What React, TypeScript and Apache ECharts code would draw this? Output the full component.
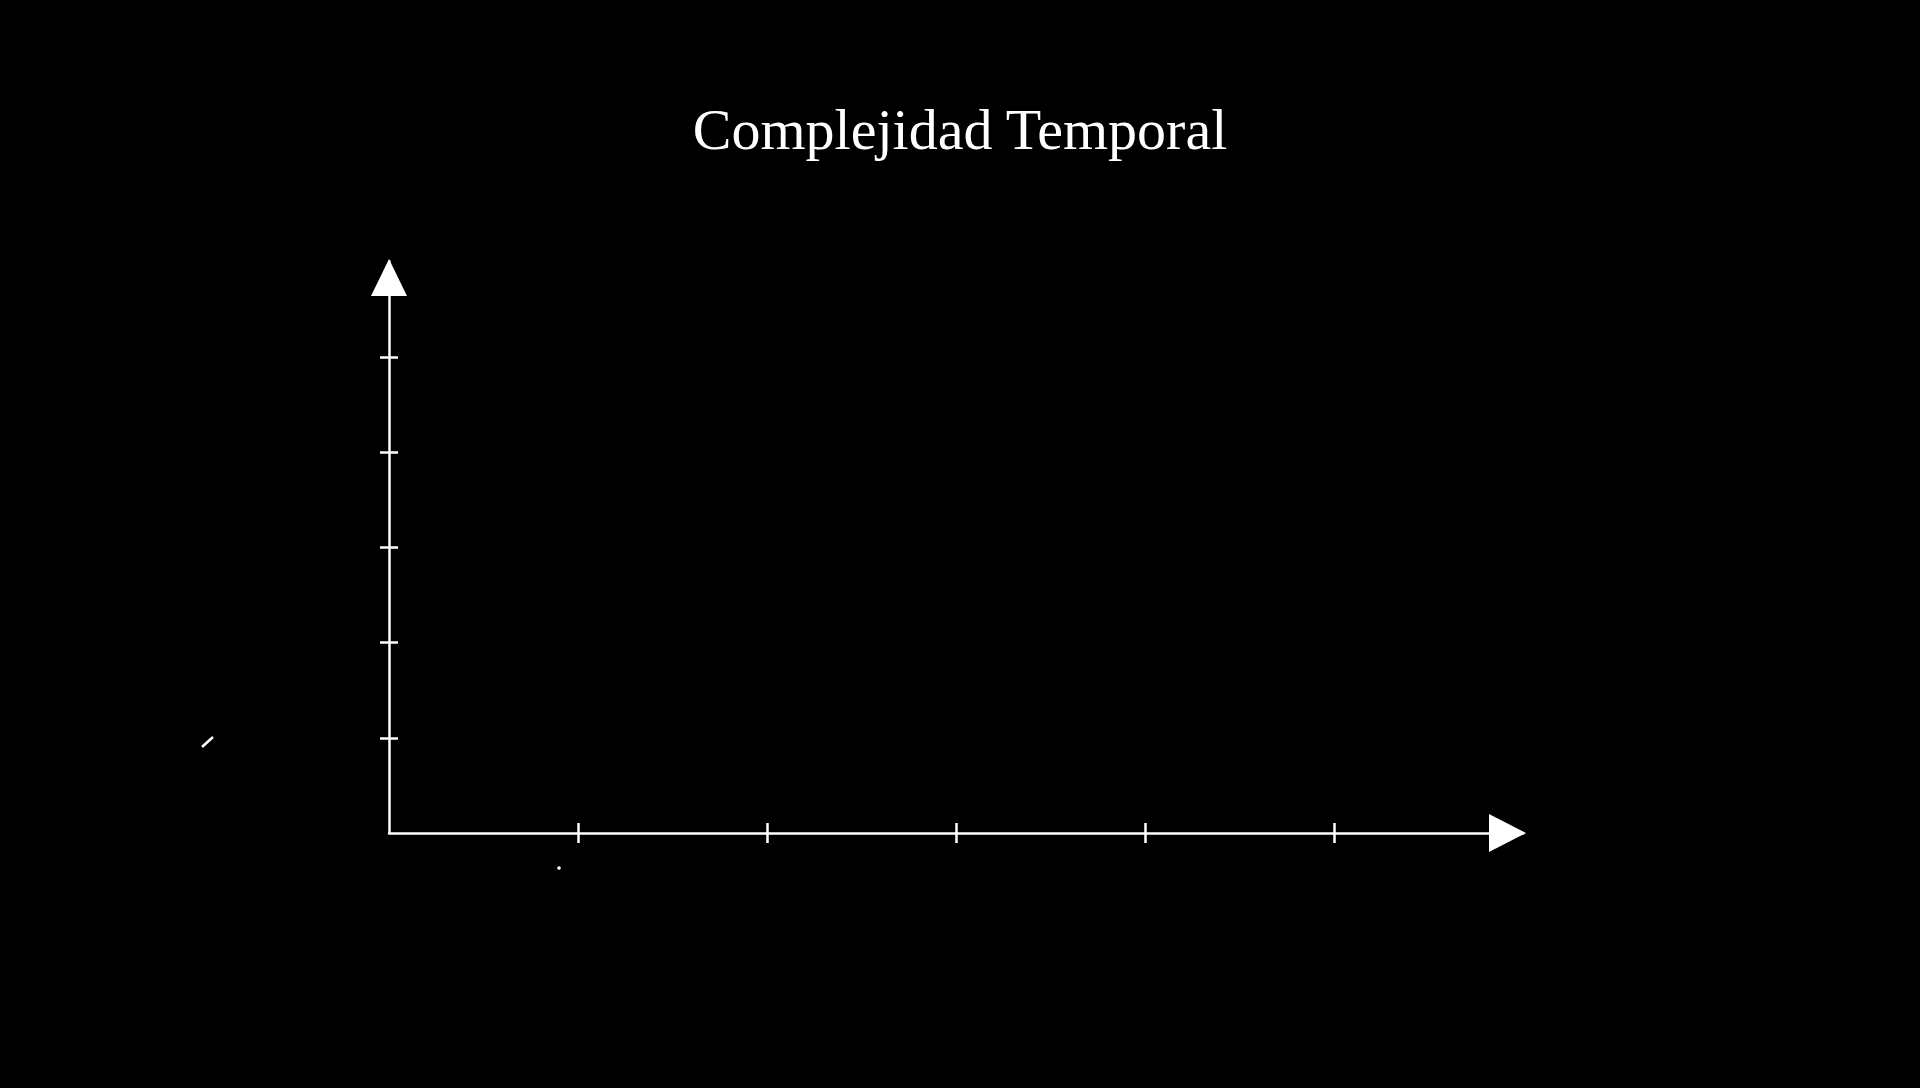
import React, { useEffect, useRef } from "react";
import * as echarts from "echarts";

// axis ranges (manim-style units) and tick positions
const xRange: [number, number] = [0, 6];
const yRange: [number, number] = [0, 6];
const xTicks: number[] = [1, 2, 3, 4, 5];
const yTicks: number[] = [1, 2, 3, 4, 5];
const titleText = "Complejidad Temporal";

const WHITE = "#ffffff";
const LW = 2.5;

const App: React.FC = () => {
    const chartRef = useRef<HTMLDivElement>(null);

    useEffect(() => {
        if (!chartRef.current) return;
        const chart = echarts.init(chartRef.current, undefined, { renderer: "svg" });

        const baseX = {
            type: "value" as const,
            min: xRange[0],
            max: xRange[1],
            interval: 1,
            splitLine: { show: false },
            axisLabel: { show: false },
        };
        const baseY = {
            type: "value" as const,
            min: yRange[0],
            max: yRange[1],
            interval: 1,
            splitLine: { show: false },
            axisLabel: { show: false },
        };

        const option: echarts.EChartsOption = {
            animation: false,
            backgroundColor: "#000000",
            title: {
                text: titleText,
                left: "center",
                top: 100,
                padding: 0,
                textStyle: {
                    color: WHITE,
                    fontFamily: "Liberation Serif",
                    fontWeight: "normal",
                    fontSize: 58,
                },
            },
            grid: { left: 389, top: 261.5, width: 1134, height: 571.5 },
            xAxis: [
                {
                    ...baseX,
                    position: "bottom",
                    axisLine: {
                        show: true,
                        onZero: false,
                        symbol: ["none", "triangle"],
                        symbolSize: [38, 37],
                        symbolOffset: [0, -15.5],
                        lineStyle: { color: WHITE, width: LW },
                    },
                    axisTick: {
                        show: true,
                        inside: false,
                        length: 10,
                        customValues: xTicks,
                        lineStyle: { color: WHITE, width: LW },
                    },
                },
                {
                    ...baseX,
                    position: "bottom",
                    axisLine: { show: false },
                    axisTick: {
                        show: true,
                        inside: true,
                        length: 10,
                        customValues: xTicks,
                        lineStyle: { color: WHITE, width: LW },
                    },
                },
            ],
            yAxis: [
                {
                    ...baseY,
                    position: "left",
                    axisLine: {
                        show: true,
                        onZero: false,
                        symbol: ["none", "triangle"],
                        symbolSize: [36, 37],
                        symbolOffset: [0, -16],
                        lineStyle: { color: WHITE, width: LW },
                    },
                    axisTick: {
                        show: true,
                        inside: false,
                        length: 9,
                        customValues: yTicks,
                        lineStyle: { color: WHITE, width: LW },
                    },
                },
                {
                    ...baseY,
                    position: "left",
                    axisLine: { show: false },
                    axisTick: {
                        show: true,
                        inside: true,
                        length: 9,
                        customValues: yTicks,
                        lineStyle: { color: WHITE, width: LW },
                    },
                },
            ],
            // stray fragments of half-drawn labels
            graphic: [
                {
                    type: "line",
                    shape: { x1: 202, y1: 747, x2: 213, y2: 737 },
                    style: { stroke: WHITE, lineWidth: LW },
                },
                {
                    type: "circle",
                    shape: { cx: 559, cy: 868, r: 1.8 },
                    style: { fill: WHITE },
                },
            ],
            series: [
                {
                    type: "line",
                    xAxisIndex: 0,
                    yAxisIndex: 0,
                    data: [],
                },
            ],
        };

        chart.setOption(option);

        return () => {
            chart.dispose();
        };
    }, []);

    return (
        <div
            ref={chartRef}
            style={{ position: "fixed", left: 0, top: 0, width: 1920, height: 1088, background: "#000" }}
        />
    );
};

export default App;
